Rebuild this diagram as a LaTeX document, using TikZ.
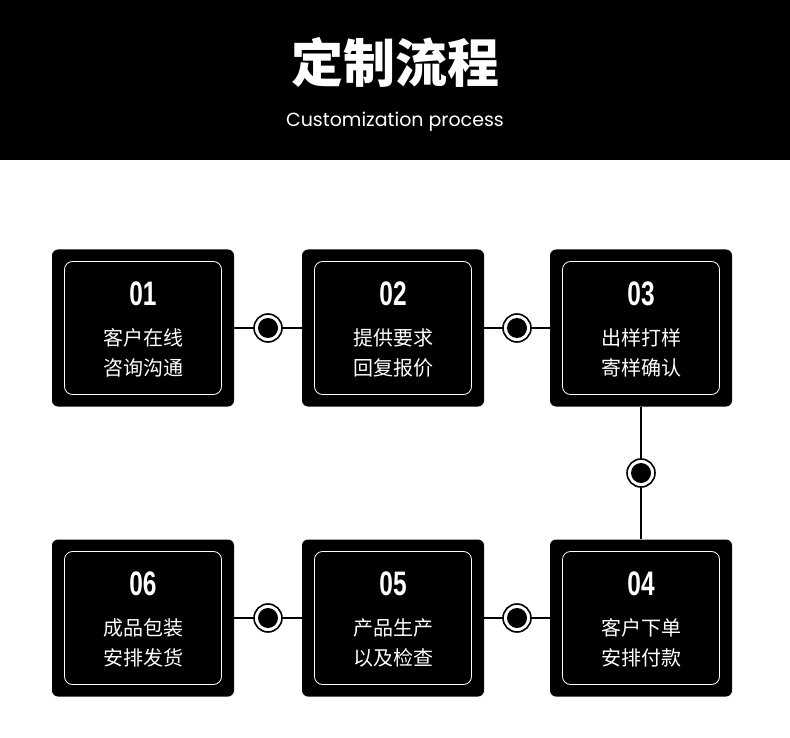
\documentclass[tikz,border=0pt]{standalone}
\usepackage{fontspec}
\setmainfont{Noto Sans CJK SC}
\newfontfamily\numfont[FakeStretch=0.72]{Liberation Sans}
\newfontfamily\latinfont{Poppins}
\usetikzlibrary{positioning}

\begin{document}
\begin{tikzpicture}[x=1pt, y=-1pt]
  \tikzstyle{stepbox}=[fill=black, rounded corners=6pt, minimum width=182pt, minimum height=157pt, inner sep=0pt]
  \tikzstyle{frame}=[draw=white, line width=0.8pt, rounded corners=8pt, minimum width=157pt, minimum height=133pt]
  \tikzstyle{num}=[text=white, font=\numfont\bfseries\fontsize{34}{34}\selectfont]
  \tikzstyle{txt}=[text=white, align=center, font=\fontsize{20}{30}\selectfont]
  \tikzstyle{link}=[line width=1.6pt]
  \tikzstyle{knot}=[circle, draw=black, line width=1.6pt, fill=white, minimum size=28pt, inner sep=0pt]

  \useasboundingbox (0,0) rectangle (790,738);
  % Header band
  \fill[black] (0,0) rectangle (790,160);
  \node[text=white, font=\bfseries\fontsize{52}{52}\selectfont] (title) at (395,62) {定制流程};
  \node[text=white, font=\latinfont\fontsize{19}{19}\selectfont] (sub) at (395,122) {Customization process};

  % Steps
  \foreach \n/\x/\y/\a/\b in {01/143/328/客户在线/咨询沟通, 02/393/328/提供要求/回复报价, 03/641/328/出样打样/寄样确认,
                             04/641/618/客户下单/安排付款, 05/393/618/产品生产/以及检查, 06/143/618/成品包装/安排发货} {
    \node[stepbox] (s\n) at (\x,\y) {};
    \node[frame] (f\n) at (s\n) {};
    \node[num] (n\n) at (\x,\y-34) {\n};
    \node[txt] (t\n) at (\x,\y+25) {\a\\\b};
  }

  % Connectors
  \foreach \p/\q in {01/02, 02/03, 06/05, 05/04, 03/04} {
    \draw[link] (s\p) -- (s\q) coordinate[midway] (m\p\q);
    \node[knot] (k\p\q) at (m\p\q) {};
    \fill[black] (k\p\q) circle (10pt);
  }
\end{tikzpicture}
\end{document}
